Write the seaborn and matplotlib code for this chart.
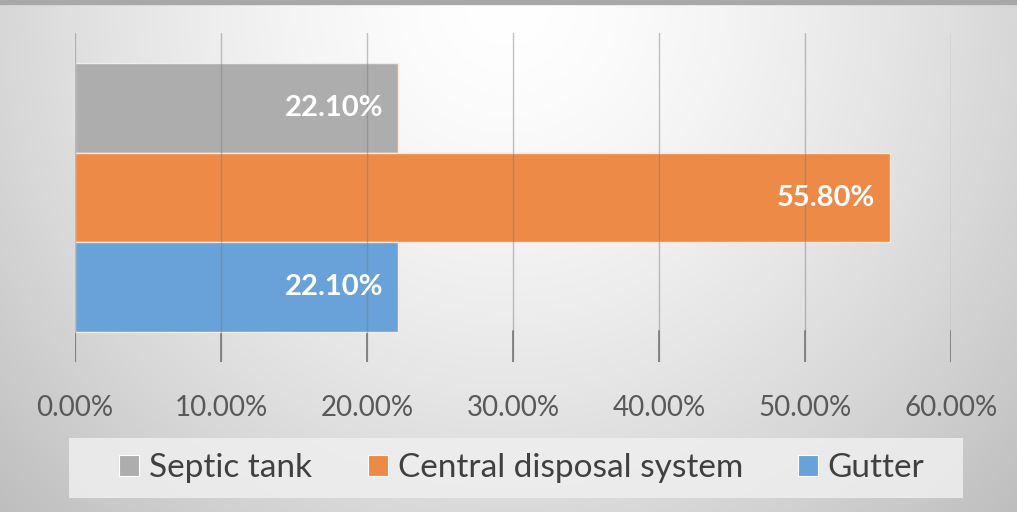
import numpy as np
import pandas as pd
import matplotlib
matplotlib.use("Agg")
import matplotlib.pyplot as plt
from matplotlib.patches import Rectangle, Patch
import seaborn as sns

series = ["Septic tank", "Central disposal system", "Gutter"]
values = [22.1, 55.8, 22.1]
colors = ["#adadad", "#ee8a48", "#69a2d8"]
xticks = [0, 10, 20, 30, 40, 50, 60]

sns.set_theme(style="white")
plt.rcParams['font.family'] = ['Lato', 'DejaVu Sans']

W, H = 1017, 512
fig = plt.figure(figsize=(W / 100, H / 100), dpi=100)

# background gradient
bg = fig.add_axes([0, 0, 1, 1], zorder=-10)
yy, xx = np.mgrid[0:1:256j, 0:1:512j]
r = np.sqrt(((xx - 0.5) / 0.72) ** 2 + ((yy - 0.0) / 1.5) ** 2)
v = 1.0 - 0.27 * np.clip(r, 0, 1) ** 1.5
img = np.dstack([v, v, v])
bg.imshow(img, extent=[0, 1, 0, 1], origin="upper", aspect="auto")
bg.set_axis_off()
bg.add_patch(Rectangle((0, 0.992), 1, 0.008, color="#a8a8a8", transform=bg.transAxes))

# legend box
fig.patches.append(Rectangle((69 / W, 1 - 498 / H), (963 - 69) / W, 60 / H,
                             transform=fig.transFigure, facecolor="#efefef",
                             edgecolor="none", alpha=0.85, zorder=-5))

ax = fig.add_axes([75 / W, 1 - 362 / H, (951 - 75) / W, (362 - 33) / H])
ax.patch.set_alpha(0)
df = pd.DataFrame({"series": series, "value": values})
sns.barplot(data=df, x="value", y="series", hue="series", palette=colors,
            saturation=1, width=1.0, orient="h", legend=False, ax=ax, zorder=3,
            edgecolor="#fbe9dc", linewidth=1.0)
ax.set_xlim(0, 60)
ax.set_ylim(2.836, -0.836)
ax.set_xticks(xticks)
ax.set_xticklabels([f"{t:.2f}%" for t in xticks], fontsize=20, color="#595959")
ax.set_yticks([])
ax.set_xlabel("")
ax.set_ylabel("")
for s in ax.spines.values():
    s.set_visible(False)
ax.tick_params(axis="x", length=0, pad=24)
for t in xticks:
    ax.axvline(t, color="#7a7a7a", alpha=0.45, lw=1.0, zorder=4)
    ax.axvline(t, ymin=0, ymax=31 / 329, color="#7f7f7f", lw=1.3, zorder=2)
for i, v in enumerate(values):
    ax.text(v - 1.0, i, f"{v:.2f}%", ha="right", va="center", color="white",
            fontsize=21, fontweight="bold", zorder=5)

handles = [Patch(facecolor=c, edgecolor="white", linewidth=0.8) for c in colors]
fig.legend(handles, series, loc="center", bbox_to_anchor=(522 / W, 1 - 468 / H),
           ncol=3, frameon=False, fontsize=24, handlelength=0.6, handleheight=0.6,
           handletextpad=0.3, columnspacing=1.65, labelcolor="#404040")

fig.savefig("out.png", dpi=100)
